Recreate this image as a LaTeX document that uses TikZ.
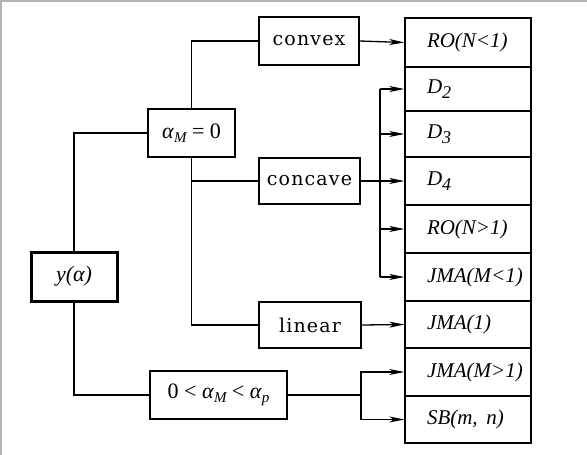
\RequirePackage{fix-cm}
\documentclass[tikz,border=0pt]{standalone}
\usepackage{fontspec}
\setmainfont{Liberation Serif}
\newfontfamily\spacedfont[LetterSpace=6]{DejaVu Serif}
\usetikzlibrary{arrows.meta}
\newcommand{\rlab}[1]{\makebox[82pt][l]{\itshape #1}}
\newcommand{\dsub}[1]{D\raisebox{-5pt}{\fontsize{18}{18}\selectfont #1}}
\newcommand{\msub}[1]{\raisebox{-4pt}{\fontsize{15}{15}\selectfont\itshape #1}}
\begin{document}
\begin{tikzpicture}[x=1pt,y=-1pt,
  font=\fontsize{21}{24}\selectfont,
  box/.style={draw,line width=1.3pt,inner sep=0pt},
  rbox/.style={box,minimum width=126pt},
  mlab/.style={font=\fontsize{22}{24}\selectfont},
  wlab/.style={font=\fontsize{19}{22}\selectfont\spacedfont},
  conn/.style={line width=1.3pt},
  arr/.style={conn,-{Stealth[length=15pt,width=6pt,inset=4pt]}}]
\useasboundingbox (0,0) rectangle (587,455);
\draw[gray!60,line width=1.2pt] (0,1) -- (587,1);
\draw[gray!60,line width=1.2pt] (1,0) -- (1,455);
% left part
\node[box,mlab,line width=3pt,minimum width=86pt,minimum height=49pt] (y) at (74,276.5) {\itshape y(α)};
\node[box,mlab,minimum width=87pt,minimum height=48pt] (alpha) at (191.5,133) {\textit{α}\msub{M} = 0};
\node[box,mlab,minimum width=137pt,minimum height=48pt] (range) at (218.5,395) {0 < \textit{α}\msub{M} < \textit{α}\msub{p}};
\node[box,wlab,minimum width=100pt,minimum height=48pt] (convex) at (309,41) {convex};
\node[box,wlab,minimum width=101pt,minimum height=46pt] (concave) at (309.5,181) {concave};
\node[box,wlab,minimum width=102pt,minimum height=46pt] (linear) at (310,325) {linear};
% right column
\node[rbox,minimum height=49pt] (r1) at (468,42.5) {\rlab{RO(N<1)}};
\node[rbox,minimum height=44pt] (r2) at (468,89) {\rlab{\dsub{2}}};
\node[rbox,minimum height=46pt] (r3) at (468,134) {\rlab{\dsub{3}}};
\node[rbox,minimum height=48pt] (r4) at (468,181) {\rlab{\dsub{4}}};
\node[rbox,minimum height=48pt] (r5) at (468,229) {\rlab{RO(N>1)}};
\node[rbox,minimum height=48pt] (r6) at (468,277) {\rlab{JMA(M<1)}};
\node[rbox,minimum height=47pt] (r7) at (468,324.5) {\rlab{JMA(1)}};
\node[rbox,minimum height=48pt] (r8) at (468,372) {\rlab{JMA(M>1)}};
\node[rbox,minimum height=47pt] (r9) at (468,419.5) {\rlab{SB(m,\, n)}};
\coordinate (bus) at (380,0);
\coordinate (fork) at (361,395);
% connectors
\draw[conn] (alpha.west) -| (y.north);
\draw[conn] (y.south) |- (range.west);
\draw[conn] (alpha.north) |- (convex.west);
\draw[conn] (alpha.south) |- (linear.west);
\draw[conn] (alpha.south |- concave.west) -- (concave.west);
\draw[arr] (convex.east) -- (r1.west);
\draw[arr] (concave.east) -- (r4.west);
\draw[conn] (bus |- r2.west) -- (bus |- r6.west);
\draw[arr] (bus |- r2.west) -- (r2.west);
\draw[arr] (bus |- r3.west) -- (r3.west);
\draw[arr] (bus |- r5.west) -- (r5.west);
\draw[arr] (bus |- r6.west) -- (r6.west);
\draw[arr] (linear.east) -- (r7.west);
\draw[conn] (range.east) -- (fork);
\draw[arr] (fork) |- (r8.west);
\draw[arr] (fork) |- (r9.west);
\end{tikzpicture}
\end{document}
